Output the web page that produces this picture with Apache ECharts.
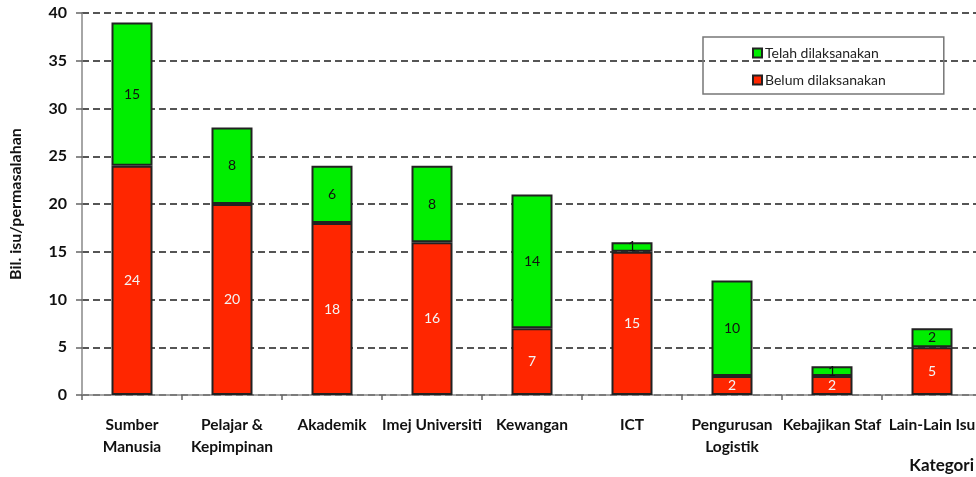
<!DOCTYPE html>
<html>
<head>
<meta charset="utf-8">
<script src="https://cdn.jsdelivr.net/npm/echarts@6/dist/echarts.min.js"></script>
<style>html,body{margin:0;padding:0;background:#fff;overflow:hidden;width:976px;height:477px;}#c{width:990px;height:477px;}</style>
</head>
<body>
<div id="c"></div>
<script>
const categories = ["Sumber\nManusia", "Pelajar &\nKepimpinan", "Akademik", "Imej Universiti", "Kewangan", "ICT", "Pengurusan\nLogistik", "Kebajikan Staf", "Lain-Lain Isu"];
const belum = [24, 20, 18, 16, 7, 15, 2, 2, 5];
const telah = [15, 8, 6, 8, 14, 1, 10, 1, 2];
const yTicks = [0, 5, 10, 15, 20, 25, 30, 35, 40];

const FONT = 'Lato, "Open Sans", sans-serif';
const chart = echarts.init(document.getElementById('c'), null, {renderer: 'canvas'});
chart.setOption({
  animation: false,
  textStyle: {fontFamily: FONT},
  grid: {left: 76, top: 13, height: 382, width: 906, containLabel: false},
  legend: {
    data: ['Telah dilaksanakan', 'Belum dilaksanakan'],
    orient: 'vertical',
    left: 703, top: 37,
    padding: [9, 58, 7, 49],
    itemGap: 13,
    itemWidth: 9, itemHeight: 9,
    icon: 'rect',
    borderColor: '#777', borderWidth: 1.5,
    textStyle: {fontFamily: FONT, fontSize: 14, color: '#222', padding: [0, 0, 0, -2]}
  },
  xAxis: {
    type: 'category',
    data: categories,
    name: 'Kategori',
    nameLocation: 'end',
    nameGap: -8,
    nameTextStyle: {fontFamily: FONT, fontSize: 17, fontWeight: 'bold', color: '#111', align: 'right', verticalAlign: 'top', padding: [62, 0, 0, 0]},
    axisLine: {lineStyle: {color: '#888', width: 1.5}},
    axisTick: {show: true, length: 5, lineStyle: {color: '#666', width: 1.5}},
    axisLabel: {interval: 0, margin: 19, fontFamily: FONT, fontSize: 15.5, fontWeight: 'bold', color: '#111', lineHeight: 22}
  },
  yAxis: {
    type: 'value',
    min: 0, max: 40, interval: 5,
    name: 'Bil. isu/permasalahan',
    nameLocation: 'middle',
    nameGap: 58,
    nameTextStyle: {fontFamily: FONT, fontSize: 16, fontWeight: 'bold', color: '#111'},
    axisLine: {show: true, lineStyle: {color: '#888', width: 1.5}},
    axisTick: {show: true, length: 6, lineStyle: {color: '#666', width: 1.5}},
    axisLabel: {margin: 15, fontFamily: FONT, fontSize: 16, fontWeight: 'bold', color: '#111',
      formatter: v => yTicks.includes(v) ? String(v) : ''},
    splitLine: {show: true, lineStyle: {color: '#555', width: 2, type: [7, 4]}}
  },
  series: [
    {
      name: 'Belum dilaksanakan', type: 'bar', stack: 'a', data: belum,
      barWidth: 41,
      itemStyle: {color: '#ff2600', borderColor: '#222', borderWidth: 2},
      label: {show: true, position: 'inside', color: '#f4f4f4', fontFamily: FONT, fontSize: 14}
    },
    {
      name: 'Telah dilaksanakan', type: 'bar', stack: 'a', data: telah,
      barWidth: 41,
      itemStyle: {color: '#00ee00', borderColor: '#222', borderWidth: 2},
      label: {show: true, position: 'inside', color: '#111', fontFamily: FONT, fontSize: 14}
    }
  ]
});
</script>
</body>
</html>
